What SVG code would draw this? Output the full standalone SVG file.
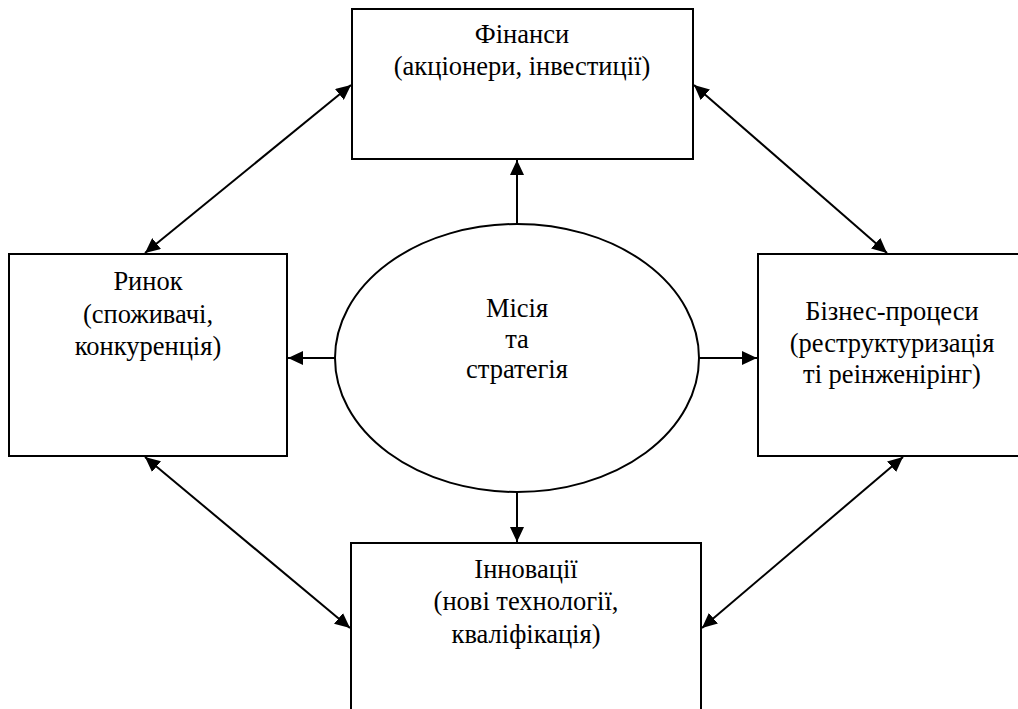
<svg xmlns="http://www.w3.org/2000/svg" width="1018" height="709" viewBox="0 0 1018 709" font-family="'Liberation Serif', 'Times New Roman', Tinos, 'DejaVu Serif', serif">
<style>
.box{fill:#fff;stroke:#000;stroke-width:2}
.ell{fill:#fff;stroke:#000;stroke-width:2}
.t{font-family:'Liberation Serif', 'Times New Roman', Tinos, 'DejaVu Serif', serif;font-size:26.5px;fill:#000;text-anchor:middle}
.c{stroke:#000;stroke-width:2;fill:none}
.c1{marker-end:url(#ah)}
.c2{marker-start:url(#ah);marker-end:url(#ah)}
</style>
<defs>
<marker id="ah" markerUnits="userSpaceOnUse" markerWidth="16" markerHeight="14" refX="15" refY="7" orient="auto-start-reverse">
<path d="M0,0 L15,7 L0,14 z" fill="#000"/>
</marker>
</defs>
<rect width="1018" height="709" fill="#fff"/>
<g id="connectors">
<line class="c c1" x1="517" y1="224" x2="517" y2="160"/>
<line class="c c1" x1="517" y1="492" x2="517" y2="542"/>
<line class="c c1" x1="335" y1="358" x2="288" y2="358"/>
<line class="c c1" x1="699" y1="358" x2="757" y2="358"/>
<line class="c c2" x1="145" y1="253" x2="351" y2="85"/>
<line class="c c2" x1="694" y1="85" x2="887" y2="253"/>
<line class="c c2" x1="145" y1="457" x2="350" y2="628"/>
<line class="c c2" x1="702" y1="628" x2="903" y2="457"/>
</g>
<g id="finance">
<rect class="box" x="352" y="9" width="341" height="150"/>
<text class="t" x="522" y="43">Фінанси</text>
<text class="t" x="522" y="75">(акціонери, інвестиції)</text>
</g>
<g id="market">
<rect class="box" x="9" y="254" width="278" height="202"/>
<text class="t" x="148" y="290">Ринок</text>
<text class="t" x="148" y="323">(споживачі,</text>
<text class="t" x="148" y="355">конкуренція)</text>
</g>
<g id="business">
<rect class="box" x="758" y="254" width="270" height="202"/>
<text class="t" x="892" y="320">Бізнес-процеси</text>
<text class="t" x="892" y="352">(реструктуризація</text>
<text class="t" x="892" y="383">ті реінженірінг)</text>
</g>
<g id="innovation">
<rect class="box" x="351" y="543" width="350" height="180"/>
<text class="t" x="526" y="578">Інновації</text>
<text class="t" x="526" y="610">(нові технології,</text>
<text class="t" x="526" y="643">кваліфікація)</text>
</g>
<g id="mission">
<ellipse class="ell" cx="517" cy="358" rx="182" ry="134"/>
<text class="t" x="517" y="317">Місія</text>
<text class="t" x="517" y="348">та</text>
<text class="t" x="517" y="378">стратегія</text>
</g>
</svg>
